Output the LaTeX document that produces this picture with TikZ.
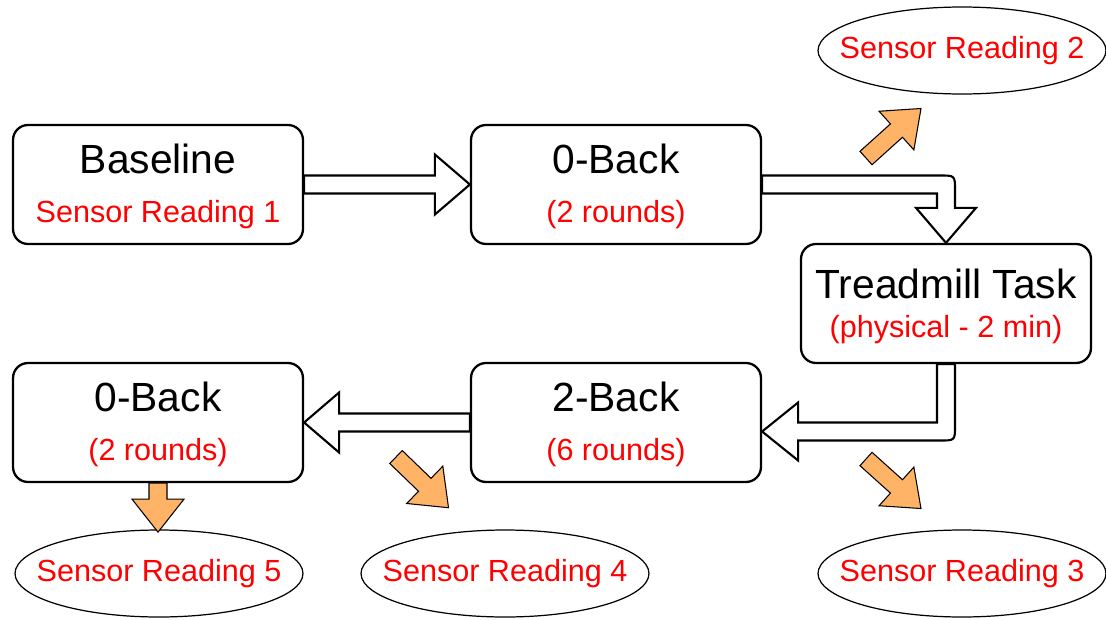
\documentclass[tikz,border=0pt]{standalone}
\usepackage{fontspec}
\setmainfont{Liberation Sans}
\usepackage{tikz}
\usetikzlibrary{calc, shapes.geometric}
\definecolor{readred}{RGB}{255, 0, 0}
\definecolor{hintorange}{RGB}{255, 179, 102}

\tikzset{
  stage/.style={draw, line width=1.3pt, rounded corners=0.3cm, minimum width=5.8cm, minimum height=2.38cm},
  title/.style={anchor=base, inner sep=0pt, font=\fontsize{23.2pt}{27pt}\selectfont},
  note/.style={anchor=base, inner sep=0pt, text=readred, font=\fontsize{17.4pt}{20pt}\selectfont},
  reading/.style={draw, ellipse, line width=0.7pt, minimum width=5.76cm, minimum height=1.74cm, inner sep=0pt},
  hollow/.style={draw, fill=white, line width=1.2pt, line join=miter},
  pics/hint/.style={code={
    \draw[fill=hintorange, line width=0.6pt, line join=miter] (0,-9) -- (#1-33,-9) -- (#1-33,-26) -- (#1,0) -- (#1-33,26) -- (#1-33,9) -- (0,9) -- cycle;
  }}
}

\begin{document}
\begin{tikzpicture}[x=0.02cm, y=-0.02cm]
\useasboundingbox (0,0) rectangle (1106,619);

% stages
\node[stage] (base) at (158,184.5) {};
\node[stage] (zb1) at (616,184.5) {};
\node[stage] (tread) at (946,303.5) {};
\node[stage] (tb) at (616,422.5) {};
\node[stage] (zb2) at (158,422.5) {};

\node[title] (baset) at ($(base.north)+(0,50)$) {Baseline};
\node[note] (basen) at ($(base.north)+(0,99)$) {Sensor Reading 1};
\node[title] (zb1t) at ($(zb1.north)+(0,50)$) {0-Back};
\node[note] (zb1n) at ($(zb1.north)+(0,99)$) {(2 rounds)};
\node[title] (treadt) at ($(tread.north)+(0,56)$) {Treadmill Task};
\node[note] (treadn) at ($(tread.north)+(0,95)$) {(physical - 2 min)};
\node[title] (tbt) at ($(tb.north)+(0,50)$) {2-Back};
\node[note] (tbn) at ($(tb.north)+(0,99)$) {(6 rounds)};
\node[title] (zb2t) at ($(zb2.north)+(0,50)$) {0-Back};
\node[note] (zb2n) at ($(zb2.north)+(0,99)$) {(2 rounds)};

% sensor readings
\node[reading, label={[note, anchor=center]center:Sensor Reading 2}] (sr2) at (962,50.5) {};
\node[reading, label={[note, anchor=center]center:Sensor Reading 3}] (sr3) at (962,573.5) {};
\node[reading, label={[note, anchor=center]center:Sensor Reading 4}] (sr4) at (505,573.5) {};
\node[reading, label={[note, anchor=center]center:Sensor Reading 5}] (sr5) at (159,573.5) {};

% hollow arrows
\draw[hollow] ($(base.east)+(0,-9)$) -- ($(zb1.west)+(-35,-9)$) -- ($(zb1.west)+(-35,-30)$) -- (zb1.west)
  -- ($(zb1.west)+(-35,30)$) -- ($(zb1.west)+(-35,9)$) -- ($(base.east)+(0,9)$) -- cycle;

\coordinate (c2) at (zb1.east -| tread.north);
\draw[hollow] ($(zb1.east)+(0,-9)$) -- ($(c2)+(-6,-9)$) .. controls ($(c2)+(9,-9)$) .. ($(c2)+(9,6)$)
  -- ($(tread.north)+(9,-35)$) -- ($(tread.north)+(30,-35)$) -- (tread.north) -- ($(tread.north)+(-30,-35)$)
  -- ($(tread.north)+(-9,-35)$) -- ($(c2)+(-9,9)$) -- ($(zb1.east)+(0,9)$) -- cycle;

\coordinate (t3) at ($(tb.east)+(0,9)$);
\coordinate (c3) at (tread.south |- t3);
\draw[hollow] ($(tread.south)+(-9,0)$) -- ($(c3)+(-9,-9)$) -- ($(t3)+(36,-9)$) -- ($(t3)+(36,-29)$) -- (t3)
  -- ($(t3)+(36,29)$) -- ($(t3)+(36,9)$) -- ($(c3)+(-6,9)$) .. controls ($(c3)+(9,9)$) .. ($(c3)+(9,-6)$)
  -- ($(tread.south)+(9,0)$) -- cycle;

\draw[hollow] ($(tb.west)+(0,-9)$) -- ($(zb2.east)+(35,-9)$) -- ($(zb2.east)+(35,-30)$) -- (zb2.east)
  -- ($(zb2.east)+(35,30)$) -- ($(zb2.east)+(35,9)$) -- ($(tb.west)+(0,9)$) -- cycle;

% reading hints
\pic[rotate=42] at (866,158) {hint=74};
\pic[rotate=-42] at (866,459) {hint=74};
\pic[rotate=-44] at (396,457) {hint=73};
\pic[rotate=-90] at (zb2.south) {hint=49};
\end{tikzpicture}
\end{document}
